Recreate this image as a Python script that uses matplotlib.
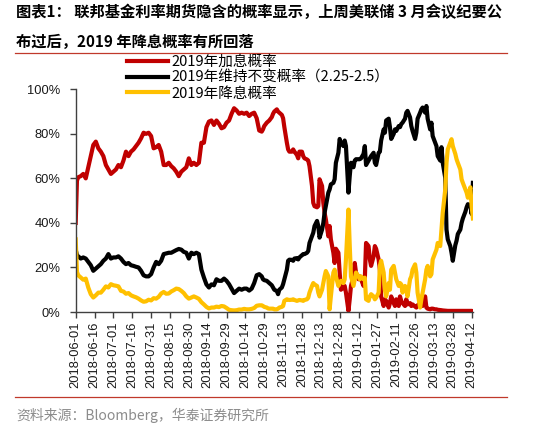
import matplotlib
matplotlib.use("Agg")
import matplotlib.pyplot as plt
from matplotlib.lines import Line2D
from matplotlib.ticker import PercentFormatter
import pandas as pd

# ---- data (days after start_date, probabilities in %) ----
start_date = "2018-06-01"

day_offsets = [
    0, 1, 2, 4, 6, 8, 10, 12, 14, 16, 18, 20, 22, 24, 26, 28, 30, 32, 34, 36,
    38, 40, 42, 44, 46, 48, 50, 52, 54, 56, 58, 60, 62, 64, 66, 68, 70, 72, 74, 76,
    78, 80, 82, 84, 86, 88, 90, 92, 94, 96, 98, 100, 102, 104, 106, 108, 110, 112, 114, 116,
    118, 120, 122, 124, 126, 128, 130, 132, 134, 136, 138, 140, 142, 144, 146,
    148, 149, 150, 152, 153, 154, 156, 157, 158, 160,
    161, 162, 164, 165, 166, 168, 169, 170, 172, 173,
    174, 176, 177, 178, 180, 181, 182, 184, 185, 186,
    188, 189, 190, 192, 193, 194, 196, 197, 198, 199,
    201, 202, 203, 205, 206, 207, 209, 210, 211, 213,
    214, 215, 217, 218, 219, 221, 222, 223, 225, 226,
    227, 229, 230, 231, 233, 234, 235, 237, 238, 239,
    241, 242, 243, 245, 246, 247, 249, 250, 251, 253,
    254, 255, 257, 258, 259, 260, 262, 263, 264, 266,
    267, 268, 270, 271, 272, 274, 275, 276, 278, 279,
    280, 282, 283, 284, 286, 287, 288, 290, 291, 292,
    294, 295, 296, 298, 299, 300, 302, 303, 304, 306,
    307, 308, 310, 311, 312, 314, 315, 316,
]

hike_prob = [
    40, 59, 60.5, 61, 62, 60, 65, 70, 75, 76.5,
    73.5, 72, 70, 66, 64, 62, 63, 64, 66, 65,
    68, 72, 70, 72, 73, 74.5, 76, 78, 80.5, 80,
    80.5, 79, 73.5, 74, 75, 72, 66, 66, 67, 65.5,
    64.5, 63, 61, 63, 64, 65, 69, 66, 67, 66,
    67, 76, 76, 83, 85.5, 86, 84, 86, 84.5, 82.5,
    83, 85, 86, 89, 91.5, 90.5, 89, 89.5, 89, 89.5,
    88, 89, 89.5, 87, 81.5,
    81, 82, 83.5, 85, 85.5, 86, 87.5, 89, 90, 91,
    90, 89.5, 88.5, 87, 83, 76, 73, 72, 72, 73,
    72, 70.5, 69, 72, 72, 70, 69, 68.5, 68, 65.5,
    56.6, 49, 47.5, 47, 47.6, 59.6, 56.6, 49, 44.6, 41.6,
    34, 38.6, 32.6, 26.6, 22, 28.4, 26.6, 17.7, 10, 11,
    11.7, 8.7, 0.5, 5.7, 11.7, 16, 22, 17.7, 14.7, 16,
    14.7, 11.7, 14.7, 31, 29.6, 23.6, 20.7, 25, 29.6, 28.4,
    23.6, 19, 7, 2.7, 5.7, 5, 2, 4, 7, 4,
    2.7, 5.7, 2.7, 7, 5, 4, 2.7, 5.7, 3.4, 4,
    2.7, 3.4, 2.5, 2, 3, 4, 5.7, 2.7, 7, 2,
    1.5, 1.2, 1.5, 1.5, 1.2, 1.2, 1, 0.9, 0.8, 0.7,
    0.6, 0.5, 0.5, 0.5, 0.5, 0.5, 0.5, 0.5, 0.5, 0.5,
    0.5, 0.5, 0.5, 0.5, 0.5, 0.5, 0.5, 0.4,
]

hold_prob = [
    28, 25.5, 25, 24, 24.5, 24, 22.5, 21, 18.5, 19.5,
    20.5, 21.5, 23, 24, 26, 24, 24.5, 24.5, 25, 24,
    22.5, 21.5, 22, 21, 20.7, 20.3, 20, 18.5, 16.5, 16,
    16, 17, 20, 22.5, 21.5, 23, 26, 26.3, 26.6, 26.6,
    27.2, 27.8, 28.3, 28, 27, 26.6, 24, 26.6, 26, 26.6,
    26, 19, 15.5, 12.4, 11, 12.4, 12, 14.7, 14, 14,
    15, 14, 12.5, 10.5, 8.5, 9.5, 10.5, 10, 10.5, 10.5,
    9.6, 10.5, 13, 16.5, 17,
    16, 14.7, 14.3, 14, 13.5, 13, 12, 11, 10, 9.4,
    8, 10, 11, 12.5, 14.7, 19, 23, 23.5, 23.4, 23,
    24, 24.2, 23.6, 24.5, 25.5, 26, 26, 26.6, 27.4, 31,
    34, 35.6, 38.6, 40.9, 38.6, 33.4, 37, 40, 44.6, 47.6,
    53.6, 55, 57.3, 58, 59.6, 67, 71.5, 77.7, 76, 74.5,
    77, 74.5, 53.6, 61, 67, 65, 68, 68.6, 68.6, 68.6,
    69, 71, 74.5, 66, 68, 69, 70, 71.5, 67, 66,
    71.5, 72, 77, 82, 80.5, 86, 86.8, 83, 77.7, 80,
    82, 81.3, 83.5, 83, 84.4, 85, 86.8, 89.5, 90.3, 87.4,
    83.5, 81.3, 77.7, 80.5, 86.8, 89.5, 91, 91.8, 89.5, 92.5,
    86.8, 82, 85, 79, 76, 74.5, 70, 68, 74, 67,
    60.3, 37, 32.6, 29.6, 26.6, 23, 30, 32, 35, 37,
    40, 42, 45, 47, 48.4, 48, 44, 58,
]

cut_prob = [
    32.6, 18, 16.5, 15.5, 14.5, 15, 11, 8, 6.5, 7.5,
    8.7, 8.7, 10, 11.5, 11, 12.5, 12, 11.8, 11.5, 9.5,
    9.2, 8.2, 8.5, 7.5, 7, 6.6, 6, 5.2, 4.6, 4.8,
    5.5, 5.2, 6.2, 6, 6.8, 8.3, 9, 8.2, 8.3, 9.2,
    9.8, 10.5, 10.3, 9.5, 8.5, 7, 6, 6.5, 7, 6.5,
    5.9, 4.4, 3.4, 2.3, 1.6, 2, 2, 2.4, 2.2, 2.7,
    2.5, 1.8, 1, 0.8, 0.7, 0.8, 1.1, 1.1, 1.4, 1.2,
    1.2, 1.4, 1.8, 2.8, 3,
    3, 2.7, 2.3, 2, 1.6, 1.5, 1.5, 1.5, 1.2, 1.2,
    1.5, 2, 2.3, 2.7, 5, 5.7, 5.5, 5.4, 5.5, 5.7,
    5.4, 5, 5.2, 5.4, 5.2, 5, 5.4, 5.7, 6.4, 8.7,
    11.7, 13, 12.4, 11.7, 8.7, 7, 10, 13, 16, 18.4,
    16, 1.2, 7, 17.7, 19, 16, 11.7, 13, 14, 13,
    14.7, 23.6, 46, 30, 16, 11.7, 14.7, 17.7, 16, 14.7,
    16, 14.7, 15.4, 5.7, 5, 7, 8, 7, 5.7, 6.4,
    8.7, 20.7, 23, 17.7, 10, 7, 13, 10, 19, 20.7,
    17.7, 14.7, 11.7, 13, 12.4, 8.7, 11.7, 10, 7, 14.7,
    16, 19, 21.4, 17.7, 8.7, 2, 5.7, 8.7, 14.7, 19,
    20.7, 16, 17, 23.6, 26.6, 28, 31, 29.6, 37, 44.6,
    55, 67, 73, 76, 77.6, 74.5, 71, 68.6, 67, 64,
    59.6, 58, 55, 53.6, 51.3, 56, 47.6, 42,
]

tick_labels = [
    "2018-06-01", "2018-06-16", "2018-07-01", "2018-07-16", "2018-07-31",
    "2018-08-15", "2018-08-30", "2018-09-14", "2018-09-29", "2018-10-14",
    "2018-10-29", "2018-11-13", "2018-11-28", "2018-12-13", "2018-12-28",
    "2019-01-12", "2019-01-27", "2019-02-11", "2019-02-26", "2019-03-13",
    "2019-03-28", "2019-04-12",
]

series_labels = ["2019年加息概率", "2019年维持不变概率（2.25-2.5）", "2019年降息概率"]
series_colors = ["#C00000", "#000000", "#FFC000"]

title_lines = [
    "图表1： 联邦基金利率期货隐含的概率显示，上周美联储 3 月会议纪要公",
    "布过后，2019 年降息概率有所回落",
]
source_text = "资料来源：Bloomberg，华泰证券研究所"

CJK = ["Noto Sans CJK SC", "DejaVu Sans"]
LATIN = "Liberation Sans"
W, H = 538, 444

# ---- figure ----
dates = pd.Timestamp(start_date) + pd.to_timedelta(day_offsets, unit="D")

fig = plt.figure(figsize=(W / 100, H / 100), dpi=100)
ax = fig.add_axes([75.7 / W, 1 - 312 / H, (472.9 - 75.7) / W, (312 - 89.3) / H])

for vals, lab, col in zip([hike_prob, hold_prob, cut_prob], series_labels, series_colors):
    ax.plot(dates, vals, color=col, lw=3.0, label=lab, solid_joinstyle="round")

ax.set_xlim(dates[0], dates[-1])
ax.set_ylim(0, 100)
ax.set_yticks([0, 20, 40, 60, 80, 100])
ax.yaxis.set_major_formatter(PercentFormatter(decimals=0))
ax.set_xticks(pd.to_datetime(tick_labels))
ax.set_xticklabels(tick_labels, rotation=90)

for side in ("top", "right"):
    ax.spines[side].set_visible(False)
for side in ("left", "bottom"):
    ax.spines[side].set_color("#404040")
    ax.spines[side].set_linewidth(1.0)
ax.tick_params(axis="both", direction="out", length=4, width=1, color="#404040",
               labelsize=9.3, labelcolor="#1a1a1a")
ax.tick_params(axis="y", pad=7)
ax.tick_params(axis="x", pad=3)
for lbl in ax.get_xticklabels() + ax.get_yticklabels():
    lbl.set_fontfamily(LATIN)

fig.legend(loc="upper left", bbox_to_anchor=(127 / W, 1 - 55 / H), frameon=False,
           prop={"family": CJK, "size": 10.5}, handlelength=2.8, handletextpad=0.25,
           labelspacing=0.12, borderpad=0, borderaxespad=0)

# title, rules and source
for ypx, line in zip((12, 42), title_lines):
    fig.text(16 / W, 1 - ypx / H, line, family=CJK, weight="bold", fontsize=11,
             va="center", ha="left")
for ypx in (53, 397):
    fig.add_artist(Line2D([15 / W, 507 / W], [1 - ypx / H] * 2, color="#C0392B", lw=0.9))
fig.text(16 / W, 1 - 415 / H, source_text, family=CJK, fontsize=10, color="#8C8C8C",
         va="center", ha="left")

fig.savefig("out.png", dpi=100)
